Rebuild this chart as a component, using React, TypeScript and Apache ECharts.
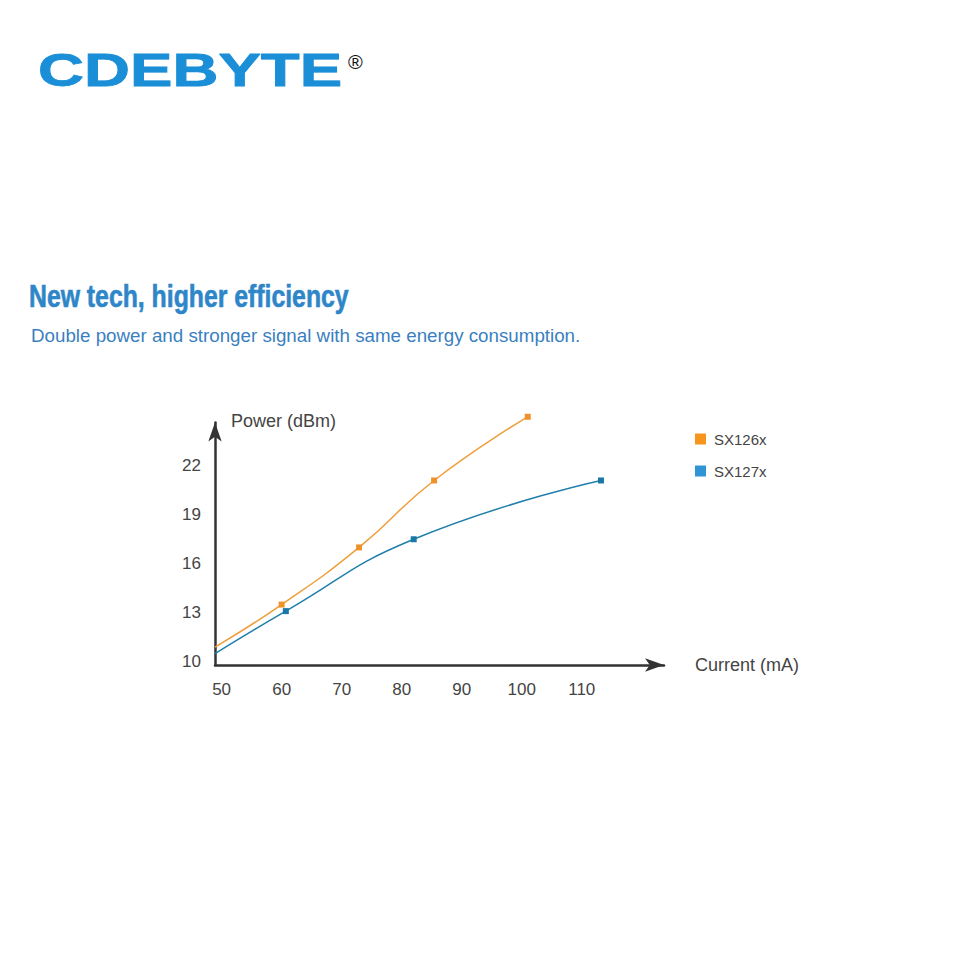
import React, { useEffect, useRef } from "react";
import * as echarts from "echarts";

// ---- data ----
const xTickLabels = [50, 60, 70, 80, 90, 100, 110];
const yTickLabels = [10, 13, 16, 19, 22];
const seriesNames = ["SX126x", "SX127x"];
const sx126xCurrent = [48.9, 60.0, 72.9, 85.4, 101.0];
const sx126xPower = [10.9, 13.5, 17.0, 21.1, 25.0];
const sx127xCurrent = [48.9, 60.7, 82.0, 113.2];
const sx127xPower = [10.5, 13.1, 17.5, 21.1];

const FONT = "'Liberation Sans', Arial, Helvetica, sans-serif";

function toPoints(xs: number[], ys: number[]) {
  return xs.map((x, i) => ({
    value: [x, ys[i]],
    symbolSize: i === 0 ? 0 : 6,
  }));
}

export default function App() {
  const ref = useRef<HTMLDivElement>(null);
  useEffect(() => {
    if (!ref.current) return;
    const chart = echarts.init(ref.current, null, { renderer: "svg" });
    const axisLineStyle = { color: "#333333", width: 2.5 };
    chart.setOption({
      animation: false,
      backgroundColor: "#ffffff",
      textStyle: { fontFamily: FONT },
      graphic: [
        {
          type: "text",
          x: 38,
          y: 70,
          scaleX: 1.355,
          style: {
            text: "CDEBYTE",
            fontFamily: FONT,
            fontWeight: "bold",
            fontSize: 47,
            fill: "#1A8ED6",
            stroke: "#1A8ED6",
            lineWidth: 0.8,
            textAlign: "left",
            textVerticalAlign: "middle",
          },
        },
        {
          type: "text",
          x: 348,
          y: 62,
          style: {
            text: "®",
            fontFamily: FONT,
            fontSize: 20,
            fill: "#111111",
            textAlign: "left",
            textVerticalAlign: "middle",
          },
        },
        {
          type: "text",
          x: 29,
          y: 297,
          scaleX: 0.8,
          style: {
            text: "New tech, higher efficiency",
            fontFamily: FONT,
            fontWeight: "bold",
            fontSize: 31,
            fill: "#2E86C8",
            stroke: "#2E86C8",
            lineWidth: 0.6,
            textAlign: "left",
            textVerticalAlign: "middle",
          },
        },
        {
          type: "text",
          x: 31,
          y: 335,
          style: {
            text: "Double power and stronger signal with same energy consumption.",
            fontFamily: FONT,
            fontSize: 18.75,
            fill: "#3A7FBF",
            textAlign: "left",
            textVerticalAlign: "middle",
          },
        },
      ],
      legend: {
        orient: "vertical",
        left: 695,
        top: 431.5,
        padding: 0,
        itemWidth: 11,
        itemHeight: 11,
        itemGap: 17,
        icon: "rect",
        textStyle: { fontSize: 15, color: "#444444", fontFamily: FONT, padding: [0, 0, 0, 3] },
        data: [
          { name: seriesNames[0], itemStyle: { color: "#F7941E" } },
          { name: seriesNames[1], itemStyle: { color: "#3194D4" } },
        ],
      },
      grid: {
        left: 215,
        top: 422.5,
        width: 449,
        height: 242.5,
        containLabel: false,
        outerBoundsMode: "none",
      },
      xAxis: {
        type: "value",
        min: 48.9,
        max: 123.7,
        name: "Current (mA)",
        nameLocation: "end",
        nameGap: 31,
        nameTextStyle: { fontSize: 18, color: "#444444", align: "left", verticalAlign: "middle" },
        axisLine: { show: true, onZero: false, symbol: ["none", "arrow"], symbolSize: [10, 19], lineStyle: axisLineStyle },
        axisTick: { show: false },
        splitLine: { show: false },
        axisLabel: {
          customValues: xTickLabels,
          fontSize: 17,
          color: "#444444",
          margin: 16,
          showMinLabel: true,
          showMaxLabel: true,
        },
      },
      yAxis: {
        type: "value",
        min: 9.8,
        max: 24.65,
        name: "Power (dBm)",
        nameLocation: "end",
        nameGap: 2,
        nameTextStyle: { fontSize: 18, color: "#444444", align: "left", verticalAlign: "middle", padding: [0, 0, 0, 16] },
        axisLine: { show: true, onZero: false, symbol: ["none", "arrow"], symbolSize: [10, 19], lineStyle: axisLineStyle },
        axisTick: { show: false },
        splitLine: { show: false },
        axisLabel: {
          customValues: yTickLabels,
          fontSize: 17,
          color: "#444444",
          margin: 14,
        },
      },
      series: [
        {
          name: seriesNames[0],
          type: "line",
          smooth: 0.5,
          clip: false,
          symbol: "rect",
          data: toPoints(sx126xCurrent, sx126xPower),
          lineStyle: { color: "#EE9E3A", width: 1.5 },
          itemStyle: { color: "#F0922A" },
          z: 3,
        },
        {
          name: seriesNames[1],
          type: "line",
          smooth: 0.5,
          clip: false,
          symbol: "rect",
          data: toPoints(sx127xCurrent, sx127xPower),
          lineStyle: { color: "#1F7FAB", width: 1.5 },
          itemStyle: { color: "#1A78A8" },
          z: 3,
        },
      ],
    });
    return () => chart.dispose();
  }, []);
  return (
    <div
      ref={ref}
      style={{ position: "fixed", left: 0, top: 0, width: 980, height: 980 }}
    />
  );
}
